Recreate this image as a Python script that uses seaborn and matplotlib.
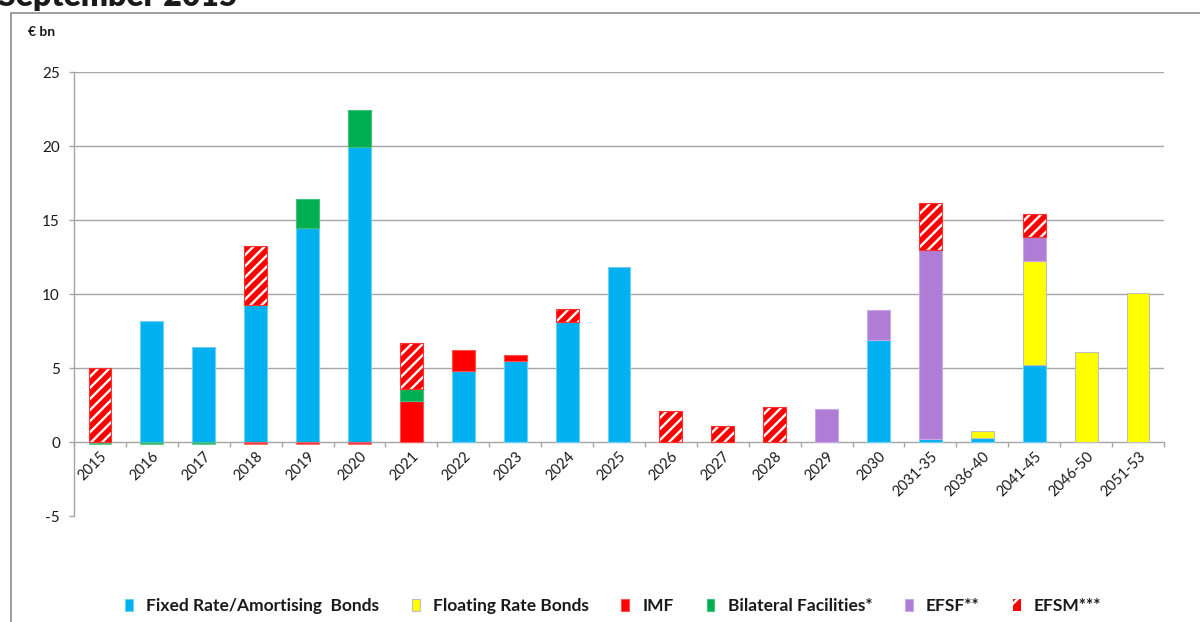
import numpy as np
import matplotlib
matplotlib.use("Agg")
import matplotlib.pyplot as plt
import matplotlib.transforms as mtrans
from matplotlib.patches import Patch, Rectangle
import seaborn as sns

# Redemption profile by maturity year, EUR bn
categories = ["2015", "2016", "2017", "2018", "2019", "2020", "2021", "2022", "2023",
              "2024", "2025", "2026", "2027", "2028", "2029", "2030", "2031-35",
              "2036-40", "2041-45", "2046-50", "2051-53"]
fixed_rate = [0, 8.2, 6.4, 9.25, 14.45, 19.9, 0, 4.8, 5.45, 8.1, 11.8,
              0, 0, 0, 0, 6.9, 0.2, 0.25, 5.2, 0, 0]
floating_rate = [0, 0, 0, 0, 0, 0, 0, 0, 0, 0, 0,
                 0, 0, 0, 0, 0, 0, 0.5, 7.0, 6.1, 10.1]
imf = [0, 0, 0, -0.12, -0.12, -0.12, 2.8, 1.4, 0.4, 0, 0,
       0, 0, 0, 0, 0, 0, 0, 0, 0, 0]
bilateral = [-0.12, -0.12, -0.12, 0, 2.0, 2.5, 0.8, 0, 0, 0, 0,
             0, 0, 0, 0, 0, 0, 0, 0, 0, 0]
efsf = [0, 0, 0, 0, 0, 0, 0, 0, 0, 0, 0,
        0, 0, 0, 2.2, 2.0, 12.8, 0, 1.65, 0, 0]
efsm = [5.0, 0, 0, 4.0, 0, 0, 3.1, 0, 0, 0.9, 0,
        2.1, 1.1, 2.35, 0, 0, 3.15, 0, 1.55, 0, 0]

series_names = ["Fixed Rate/Amortising  Bonds", "Floating Rate Bonds", "IMF",
                "Bilateral Facilities*", "EFSF**", "EFSM***"]
y_ticks = [-5, 0, 5, 10, 15, 20, 25]

colors = ["#00B0F0", "#FFFF00", "#FF0000", "#00B050", "#AF7DD6", "#FF0000"]
edge_colors = ["#6FD0F5", "#BFBFBF", "#FF5050", "#40C080", "#C8A8E6", "#FF0000"]

sns.set_theme(style="white")
plt.rcParams["font.family"] = ["Lato", "DejaVu Sans"]
plt.rcParams["hatch.color"] = "white"
plt.rcParams["hatch.linewidth"] = 1.7

W, H = 1200, 622
fig = plt.figure(figsize=(W / 100, H / 100), dpi=100)
fig.patch.set_facecolor("white")

x0, x1, ytop, ybot = 74, 1164, 72, 516
ax = fig.add_axes([x0 / W, 1 - ybot / H, (x1 - x0) / W, (ybot - ytop) / H])

series = [fixed_rate, floating_rate, imf, bilateral, efsf, efsm]
bar_w = 0.44
bottom_pos = np.zeros(len(categories))
bottom_neg = np.zeros(len(categories))

for i, vals in enumerate(series):
    vals = np.asarray(vals, dtype=float)
    pos = np.clip(vals, 0, None)
    neg = np.clip(vals, None, 0)
    for part, base in ((pos, bottom_pos), (neg, bottom_neg)):
        if not np.any(part != 0):
            continue
        sns.barplot(x=categories, y=part, bottom=base.copy(), color=colors[i],
                    saturation=1, width=bar_w, errorbar=None, ax=ax)
        cont = ax.containers[-1]
        for patch, h in zip(cont.patches, part):
            if h == 0:
                patch.set_visible(False)
                continue
            if i == 5:
                patch.set_facecolor(colors[i])
                patch.set_edgecolor("white")
                patch.set_hatch("///")
                patch.set_linewidth(0)
            else:
                patch.set_facecolor(colors[i])
                patch.set_edgecolor(edge_colors[i])
                patch.set_linewidth(0.8 if h > 0 else 0.6)
            if h < 0:
                patch.set_alpha(0.75)
    bottom_pos = bottom_pos + pos
    bottom_neg = bottom_neg + neg

# thin red border around the striped segments
for cont in ax.containers:
    for patch in cont.patches:
        if patch.get_hatch() == "///" and patch.get_visible():
            bx, by = patch.get_xy()
            ax.add_patch(Rectangle((bx, by), patch.get_width(), patch.get_height(),
                                   fill=False, edgecolor="#FF3030", linewidth=0.8, zorder=3))

ax.set_xlim(-0.5, len(categories) - 0.5)
ax.set_ylim(-5, 25)
ax.set_xlabel("")
ax.set_ylabel("")

grid_c = "#A6A6A6"
for yv in y_ticks:
    if yv > 0:
        ax.axhline(yv, color=grid_c, linewidth=1.0, zorder=0)

for side in ["top", "right"]:
    ax.spines[side].set_visible(False)
ax.spines["left"].set_color(grid_c)
ax.spines["left"].set_linewidth(1.0)
ax.spines["bottom"].set_position(("data", 0))
ax.spines["bottom"].set_color(grid_c)
ax.spines["bottom"].set_linewidth(1.0)
ax.spines["bottom"].set_zorder(0.5)

ax.set_yticks(y_ticks)
ax.set_yticklabels([str(v) for v in y_ticks])
ax.tick_params(axis="y", direction="out", length=3.6, width=1, color=grid_c,
               pad=6.5, labelsize=11, labelcolor="#1a1a1a", left=True)

ax.set_xticks(range(len(categories)))
ax.set_xticklabels(categories, rotation=45, ha="right", va="center",
                   rotation_mode="anchor")
ax.tick_params(axis="x", which="major", length=0, pad=9, labelsize=10.5,
               labelcolor="#1a1a1a")
ax.set_xticks(np.arange(-0.5, len(categories), 1.0), minor=True)
ax.tick_params(axis="x", which="minor", direction="out", length=3.6, width=1,
               color=grid_c, bottom=True)

shift = mtrans.ScaledTranslation(5 / 100, 0, fig.dpi_scale_trans)
for lbl in ax.get_xticklabels():
    lbl.set_transform(lbl.get_transform() + shift)

# unit label and heading
fig.text(28 / W, 1 - 32 / H, "€ bn", fontsize=10, fontweight="bold",
         va="center", ha="left", color="#1a1a1a")
fig.text(-2 / W, 1 - 6 / H, "September 2015", fontsize=23, fontweight="heavy",
         va="baseline", ha="left", color="#1a1a1a")

# outer chart frame
fig.add_artist(Rectangle((11 / W, -0.2), 1.2, 1.2 - 13 / H, transform=fig.transFigure,
                         fill=False, edgecolor="#8C8C8C", linewidth=1.2))

handles = []
for i, name in enumerate(series_names):
    if i == 5:
        handles.append(Patch(facecolor=colors[i], edgecolor="white", hatch="//",
                             linewidth=0, label=name))
    else:
        handles.append(Patch(facecolor=colors[i], edgecolor=edge_colors[i],
                             linewidth=0.8, label=name))
leg = fig.legend(handles=handles, loc="center", bbox_to_anchor=(613 / W, 1 - 606 / H),
                 ncol=6, frameon=False, handlelength=0.45, handleheight=0.7,
                 handletextpad=0.75, columnspacing=1.9,
                 prop={"weight": "bold", "size": 12.5})
for t in leg.get_texts():
    t.set_color("#1a1a1a")

fig.savefig("out.png", dpi=100, facecolor="white")
